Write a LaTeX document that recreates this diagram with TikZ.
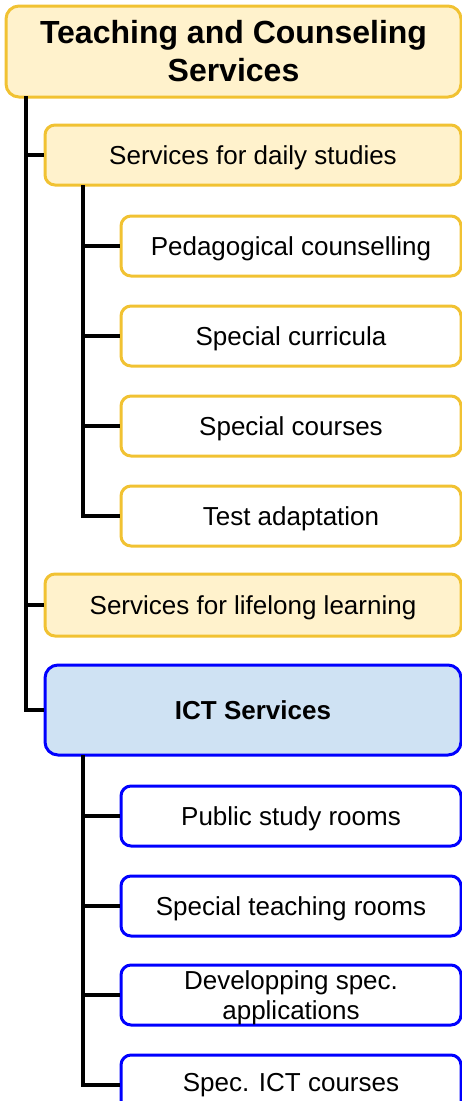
\documentclass[tikz,border=0pt]{standalone}
\usepackage{fontspec}
\setmainfont{Liberation Sans}
\definecolor{ybord}{HTML}{F1C232}
\definecolor{yfill}{HTML}{FFF2CC}
\definecolor{bbord}{HTML}{0000FF}
\definecolor{bfill}{HTML}{CFE2F3}
\tikzset{
  ybox/.style={draw=ybord, fill=yfill, line width=3pt, rounded corners=10pt, inner sep=0pt, align=center, text depth=0pt, font=\fontsize{26}{30}\selectfont},
  wybox/.style={draw=ybord, fill=white, line width=3pt, rounded corners=10pt, inner sep=0pt, align=center, text depth=0pt, font=\fontsize{26}{30}\selectfont},
  wbbox/.style={draw=bbord, fill=white, line width=3pt, rounded corners=10pt, inner sep=0pt, align=center, text depth=0pt, font=\fontsize{26}{30}\selectfont},
  conn/.style={draw=black, line width=3.2pt},
}
\begin{document}
\begin{tikzpicture}[x=1pt,y=-1pt]
\useasboundingbox (0,0) rectangle (462,1101);
\clip (0,0) rectangle (462,1101);
% root
\node[ybox, rounded corners=13pt, text depth=, minimum width=455pt, minimum height=91pt, font=\fontsize{32}{38}\selectfont\bfseries] (root) at (233.5,51.5) {Teaching and Counseling\\Services};
% level 1
\node[ybox, minimum width=416pt, minimum height=60pt] (daily) at (253,155) {Services for daily studies};
\node[ybox, minimum width=416pt, minimum height=62pt] (life) at (253,605) {Services for lifelong learning};
\node[draw=bbord, fill=bfill, line width=3pt, rounded corners=13pt, inner sep=0pt, minimum width=416pt, minimum height=90pt, font=\fontsize{26}{30}\selectfont\bfseries] (ict) at (253,710) {ICT Services};
% daily children
\node[wybox, minimum width=340pt, minimum height=60pt] (ped) at (291,246) {Pedagogical counselling};
\node[wybox, minimum width=340pt, minimum height=60pt] (cur) at (291,336) {Special curricula};
\node[wybox, minimum width=340pt, minimum height=60pt] (cou) at (291,426) {Special courses};
\node[wybox, minimum width=340pt, minimum height=60pt] (tes) at (291,516) {Test adaptation};
% ict children
\node[wbbox, minimum width=340pt, minimum height=60pt] (pub) at (291,816) {Public study rooms};
\node[wbbox, minimum width=340pt, minimum height=60pt] (tea) at (291,906) {Special teaching rooms};
\node[wbbox, minimum width=340pt, minimum height=60pt] (dev) at (291,995) {Developping spec.\\applications};
\node[wbbox, text depth=, minimum width=340pt, minimum height=60pt] (ictc) at (291,1085) {Spec. ICT courses};
% trunks
\coordinate (t0) at (26,96);
\coordinate (t1) at (83,185);
\coordinate (t2) at (83,755);
\draw[conn] (t0) |- (daily.west);
\draw[conn] (t0) |- (life.west);
\draw[conn] (t0) |- (ict.west);
\draw[conn] (t1) |- (ped.west);
\draw[conn] (t1) |- (cur.west);
\draw[conn] (t1) |- (cou.west);
\draw[conn] (t1) |- (tes.west);
\draw[conn] (t2) |- (pub.west);
\draw[conn] (t2) |- (tea.west);
\draw[conn] (t2) |- (dev.west);
\draw[conn] (t2) |- (ictc.west);
\end{tikzpicture}
\end{document}
